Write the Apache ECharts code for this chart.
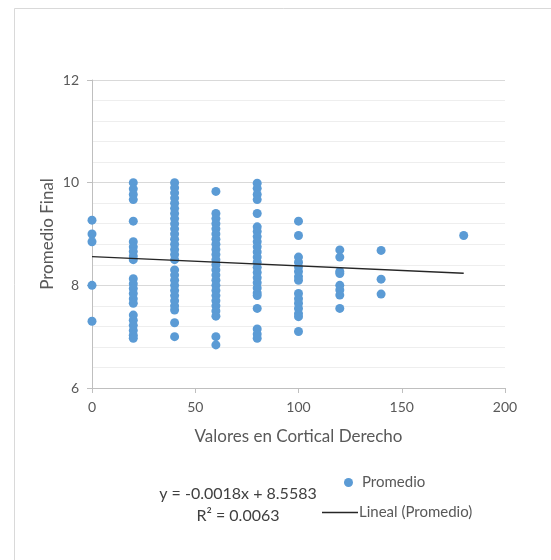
<!DOCTYPE html>
<html>
<head>
<meta charset="utf-8">
<script src="https://cdn.jsdelivr.net/npm/echarts@6/dist/echarts.min.js"></script>
<style>html,body{margin:0;padding:0;background:#fff;}#c{width:551px;height:560px;}</style>
</head>
<body>
<div id="c"></div>
<script>
// Data (x = Valores en Cortical Derecho, y = Promedio Final)
const x0 = [9.27, 9.0, 8.85, 8.0, 7.3];
const x20 = [10.0, 9.88, 9.77, 9.67, 9.25, 8.85, 8.75, 8.66, 8.57, 8.5, 8.13, 8.03, 7.94, 7.84, 7.74, 7.65, 7.42, 7.32, 7.22, 7.12, 7.03, 6.97];
const x40 = [10.0, 9.9, 9.8, 9.7, 9.6, 9.5, 9.4, 9.3, 9.2, 9.1, 9.0, 8.9, 8.8, 8.7, 8.6, 8.5, 8.3, 8.2, 8.1, 8.0, 7.9, 7.8, 7.7, 7.6, 7.52, 7.27, 7.0];
const x60 = [9.83, 9.4, 9.3, 9.2, 9.1, 9.0, 8.9, 8.8, 8.7, 8.6, 8.5, 8.4, 8.3, 8.2, 8.1, 8.0, 7.9, 7.8, 7.7, 7.6, 7.5, 7.4, 7.0, 6.84];
const x80 = [9.99, 9.89, 9.77, 9.67, 9.4, 9.14, 9.05, 8.95, 8.85, 8.75, 8.65, 8.55, 8.45, 8.35, 8.25, 8.15, 8.05, 7.95, 7.85, 7.8, 7.55, 7.15, 7.05, 6.97];
const x100 = [9.25, 8.97, 8.55, 8.45, 8.36, 8.27, 8.17, 8.1, 7.84, 7.74, 7.65, 7.55, 7.45, 7.39, 7.1];
const x120 = [8.69, 8.55, 8.27, 8.23, 8.0, 7.91, 7.81, 7.55];
const x140 = [8.68, 8.12, 7.83];
const x180 = [8.97];
const columns = [[0, x0], [20, x20], [40, x40], [60, x60], [80, x80], [100, x100], [120, x120], [140, x140], [180, x180]];
const xTicks = [0, 50, 100, 150, 200];
const yTicks = [6, 8, 10, 12];
const trendSlope = -0.0018;
const trendIntercept = 8.5583;
const trendRange = [0, 180];
const eqText = 'y = -0.0018x + 8.5583';
const r2Text = 'R² = 0.0063';

const points = [];
columns.forEach(([x, ys]) => ys.forEach(y => points.push([x, y])));
const trend = trendRange.map(x => [x, trendSlope * x + trendIntercept]);

const FONT = 'Lato';
const chart = echarts.init(document.getElementById('c'), null, {renderer: 'canvas'});
chart.setOption({
  animation: false,
  backgroundColor: '#ffffff',
  textStyle: {fontFamily: FONT},
  grid: {left: 92, right: 46, top: 80, bottom: 172, containLabel: false},
  xAxis: {
    type: 'value', min: xTicks[0], max: xTicks[xTicks.length - 1], interval: 50,
    name: 'Valores en Cortical Derecho', nameLocation: 'middle', nameGap: 40,
    nameMoveOverlap: false,
    nameTextStyle: {color: '#595959', fontSize: 17, fontFamily: FONT},
    axisLine: {show: true, lineStyle: {color: '#bfbfbf', width: 1}},
    axisTick: {show: true, length: 5, lineStyle: {color: '#bfbfbf'}},
    axisLabel: {color: '#595959', fontSize: 14, margin: 12, fontFamily: FONT},
    splitLine: {show: false}
  },
  yAxis: {
    type: 'value', min: yTicks[0], max: yTicks[yTicks.length - 1], interval: 2,
    name: 'Promedio Final', nameLocation: 'middle', nameGap: 36,
    nameMoveOverlap: false,
    nameTextStyle: {color: '#595959', fontSize: 17, fontFamily: FONT},
    axisLine: {show: true, lineStyle: {color: '#bfbfbf', width: 1}},
    axisTick: {show: true, length: 5, lineStyle: {color: '#bfbfbf'}},
    axisLabel: {color: '#595959', fontSize: 14, margin: 13, fontFamily: FONT},
    splitLine: {show: true, lineStyle: {color: '#d9d9d9', width: 1}},
    minorTick: {show: false, splitNumber: 5},
    minorSplitLine: {show: true, lineStyle: {color: '#eeeeee', width: 1}}
  },
  legend: [
    {data: [{name: 'Promedio', icon: 'circle'}], left: 339, top: 470, orient: 'vertical',
     itemWidth: 9, itemHeight: 9, itemGap: 4,
     textStyle: {color: '#595959', fontSize: 15, fontFamily: FONT, padding: [0, 0, 0, 4]}},
    {data: [{name: 'Lineal (Promedio)', icon: 'rect'}], left: 317, top: 500, orient: 'vertical',
     itemWidth: 36, itemHeight: 1.5, itemGap: 2,
     textStyle: {color: '#595959', fontSize: 15, fontFamily: FONT, padding: [0, 0, 0, -4]}}
  ],
  series: [
    {name: 'Promedio', type: 'scatter', data: points, symbolSize: 9,
     itemStyle: {color: '#5b9bd5', opacity: 1}, z: 2},
    {name: 'Lineal (Promedio)', type: 'line', data: trend, symbol: 'none',
     lineStyle: {color: '#262626', width: 1.4}, itemStyle: {color: '#262626'}, z: 3}
  ],
  graphic: [
    {type: 'rect', left: 12, top: 6, shape: {width: 600, height: 600}, silent: true, z: -10,
     style: {fill: 'none', stroke: '#d9d9d9', lineWidth: 1}},
    {type: 'text', style: {text: eqText, x: 238, y: 494, align: 'center', verticalAlign: 'middle',
      fill: '#404040', font: '16px ' + FONT}},
    {type: 'text', style: {text: r2Text, x: 238, y: 516, align: 'center', verticalAlign: 'middle',
      fill: '#404040', font: '16px ' + FONT}}
  ]
});
</script>
</body>
</html>
